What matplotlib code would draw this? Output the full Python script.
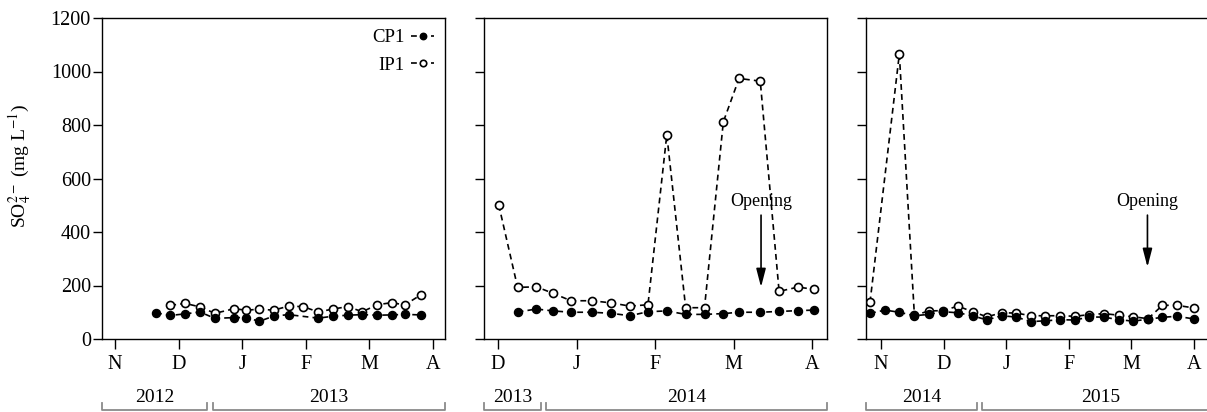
import matplotlib
matplotlib.use("Agg")
import matplotlib.pyplot as plt
import matplotlib.transforms as mtransforms

plt.rcParams["font.family"] = ["Liberation Serif", "DejaVu Serif"]
plt.rcParams["mathtext.fontset"] = "stix"

# Sampling times, in months counted from the first month tick of each panel
t1_cp = [0.645, 0.87, 1.105, 1.336, 1.572, 1.87, 2.065, 2.27, 2.5, 2.73,
         3.196, 3.427, 3.66, 3.89, 4.124, 4.355, 4.555, 4.816]
cp1_1 = [98, 88, 94, 101, 77, 80, 80, 66, 86, 91, 78, 85, 89, 91, 89, 90, 92, 90]
t1_ip = [0.87, 1.105, 1.336, 1.572, 1.87, 2.065, 2.27, 2.5, 2.73, 2.96,
         3.196, 3.427, 3.66, 3.89, 4.124, 4.355, 4.555, 4.816]
ip1_1 = [126, 133, 120, 96, 113, 108, 111, 108, 123, 121, 101, 112, 121, 102,
         128, 136, 127, 166]

t2_cp = [0.25, 0.49, 0.70, 0.93, 1.20, 1.44, 1.68, 1.91, 2.15, 2.39, 2.63,
         2.87, 3.07, 3.34, 3.58, 3.82, 4.02]
cp1_2 = [101, 112, 105, 100, 100, 96, 87, 102, 105, 92, 92, 95, 100, 100, 103,
         106, 108]
t2_ip = [0.01, 0.25, 0.49, 0.70, 0.93, 1.20, 1.44, 1.68, 1.91, 2.15, 2.39,
         2.63, 2.87, 3.07, 3.34, 3.58, 3.82, 4.02]
ip1_2 = [501, 193, 195, 171, 143, 143, 135, 123, 128, 764, 117, 117, 812, 974,
         964, 178, 194, 186]

t3_cp = [-0.176, 0.064, 0.293, 0.534, 0.764, 0.994, 1.229, 1.463, 1.694,
         1.928, 2.163, 2.393, 2.628, 2.864, 3.098, 3.329, 3.562, 3.798, 4.034,
         4.269, 4.5, 4.728, 5.005]
cp1_3 = [96, 108, 100, 87, 92, 102, 98, 87, 71, 87, 82, 65, 68, 72, 71, 82, 82,
         72, 67, 74, 81, 85, 75]
t3_ip = [-0.176, 0.293, 0.534, 0.764, 0.994, 1.229, 1.463, 1.694, 1.928,
         2.163, 2.393, 2.628, 2.864, 3.098, 3.329, 3.562, 3.798, 4.034, 4.269,
         4.5, 4.728, 5.005]
ip1_3 = [137, 1065, 88, 105, 106, 123, 102, 83, 98, 97, 87, 87, 87, 85, 91,
         95, 89, 83, 76, 126, 126, 116]

months_1 = ["N", "D", "J", "F", "M", "A"]
months_2 = ["D", "J", "F", "M", "A"]
months_3 = ["N", "D", "J", "F", "M", "A"]

# year brackets: (start, end, label) in month units
years_1 = [(-0.204, 1.447, "2012"), (1.54, 5.19, "2013")]
years_2 = [(-0.178, 0.55, "2013"), (0.61, 4.19, "2014")]
years_3 = [(-0.24, 1.54, "2014"), (1.62, 5.4, "2015")]

# "Opening" arrows: x position, arrow start and end (mg/L)
opening_2 = (3.35, 463, 194)
opening_3 = (4.26, 463, 269)

y_ticks = [0, 200, 400, 600, 800, 1000, 1200]

W, H = 1207, 412
fig = plt.figure(figsize=(W / 100, H / 100), dpi=100)

bottom = (H - 339) / H
height = 321 / H
ax1 = fig.add_axes([102 / W, bottom, 343 / W, height])
ax2 = fig.add_axes([484 / W, bottom, 343 / W, height])
ax3 = fig.add_axes([866 / W, bottom, 349 / W, height])

dash = (0, (3.5, 2.5))
lw = 1.2
ms = 5.8
fs = 14.5


def draw_panel(ax, tc, cp, ti, ip, months, xlim, years, show_labels):
    ax.plot(ti, ip, linestyle=dash, color="black", lw=lw, marker="o", ms=ms,
            mfc="white", mec="black", mew=1.2, label="IP1", zorder=2)
    ax.plot(tc, cp, linestyle=dash, color="black", lw=lw, marker="o", ms=ms,
            mfc="black", mec="black", mew=1.0, label="CP1", zorder=3)
    ax.set_xlim(*xlim)
    ax.set_ylim(0, 1200)
    ax.set_xticks(range(len(months)))
    ax.set_xticklabels(months)
    ax.set_yticks(y_ticks)
    if show_labels:
        ax.set_yticklabels([str(v) for v in y_ticks])
    else:
        ax.set_yticklabels([])
    ax.tick_params(axis="x", direction="out", length=7.5, width=1.0, pad=4,
                   labelsize=fs)
    ax.tick_params(axis="y", direction="out", length=6.5, width=1.0, pad=1.5,
                   labelsize=fs)
    for s in ax.spines.values():
        s.set_linewidth(1.0)
    trans = mtransforms.blended_transform_factory(ax.transData, fig.transFigure)
    y_line = (H - 410) / H
    y_end = (H - 402.5) / H
    y_txt = (H - 398) / H
    for x0, x1, lab in years:
        ax.plot([x0, x0, x1, x1], [y_end, y_line, y_line, y_end],
                transform=trans, color="#8a8a8a", lw=1.3, clip_on=False)
        ax.text((x0 + x1) / 2, y_txt, lab, transform=trans, ha="center",
                va="center", fontsize=14, clip_on=False)


draw_panel(ax1, t1_cp, cp1_1, t1_ip, ip1_1, months_1, (-0.204, 5.19), years_1, True)
draw_panel(ax2, t2_cp, cp1_2, t2_ip, ip1_2, months_2, (-0.178, 4.19), years_2, False)
draw_panel(ax3, t3_cp, cp1_3, t3_ip, ip1_3, months_3, (-0.24, 5.34), years_3, False)

for ax, (xo, ys, ye) in ((ax2, opening_2), (ax3, opening_3)):
    ax.annotate("", xy=(xo, ye), xytext=(xo, ys),
                arrowprops=dict(arrowstyle="-|>,head_length=0.85,head_width=0.22",
                                color="black", lw=1.2, shrinkA=0, shrinkB=0),
                fontsize=13)
    ax.text(xo, ys + 50, "Opening", ha="center", va="center", fontsize=13)

handles, labels = ax1.get_legend_handles_labels()
ax1.legend(handles[::-1], labels[::-1], loc="upper right", frameon=False,
           markerfirst=False, fontsize=13.5, handlelength=1.2,
           handletextpad=0.35, labelspacing=0.55, markerscale=0.8,
           borderaxespad=0.3, borderpad=0.3)

fig.text(20 / W, (H - 166) / H, r"SO$_4^{2-}$ (mg L$^{-1}$)", rotation=90,
         ha="center", va="center", fontsize=14)

fig.savefig("out.png", dpi=100)
